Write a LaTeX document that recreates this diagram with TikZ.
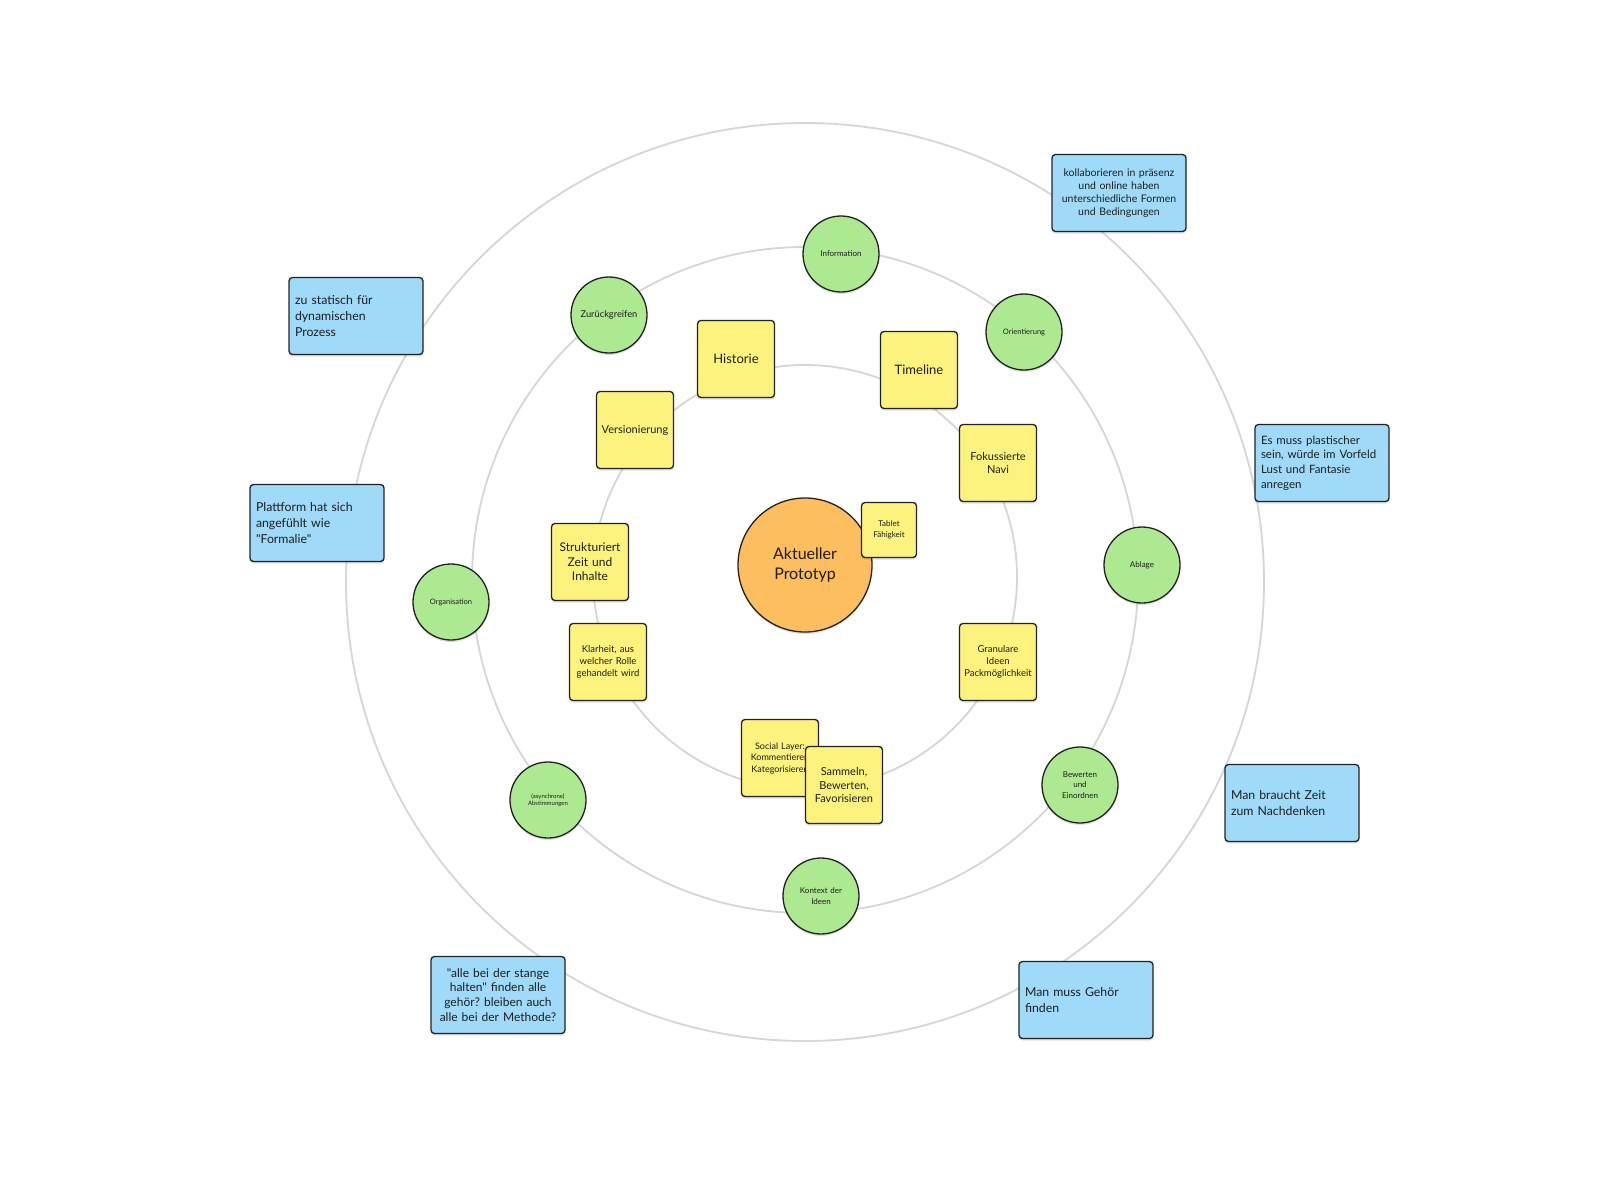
\documentclass[tikz,border=0pt]{standalone}
\usepackage{fontspec}
\setmainfont{Lato}[Ligatures=TeXOff]
\usetikzlibrary{shadows}
\definecolor{ringc}{HTML}{D6D6D6}
\definecolor{edgec}{HTML}{222222}
\definecolor{txtc}{HTML}{1E1E1E}
\definecolor{bluefill}{HTML}{9FDBF9}
\definecolor{yelfill}{HTML}{FCF27E}
\definecolor{greenfill}{HTML}{ADE991}
\definecolor{orangefill}{HTML}{FDBE5F}
\newcommand{\fs}[2]{\fontsize{#1}{#2}\selectfont\frenchspacing}
\hyphenpenalty=10000
\exhyphenpenalty=10000
\begin{document}
\begin{tikzpicture}[x=1pt,y=-1pt,
  ringline/.style={draw=ringc, line width=1.8pt},
  shad/.style={drop shadow={shadow xshift=0pt, shadow yshift=-2pt, opacity=0.12, fill=black}},
  boxbase/.style={shad, draw=edgec, line width=1.3pt, rounded corners=3.5pt, inner sep=0pt, text=txtc},
  bluebox/.style={boxbase, fill=bluefill, minimum width=134pt, minimum height=77pt},
  bluel/.style={bluebox, text width=122pt, align=left, font=\fs{12.3}{15.6}},
  bluec/.style={bluebox, text width=128pt, align=center},
  yelbox/.style={boxbase, fill=yelfill, minimum width=77pt, minimum height=77pt, text width=74pt, align=center},
  greenc/.style={shad, circle, draw=edgec, line width=1.3pt, fill=greenfill, minimum size=76pt, inner sep=0pt, text width=62pt, align=center, text=txtc},
]
\useasboundingbox (0,0) rectangle (1616,1193);
\fill[white] (0,0) rectangle (1616,1193);

% rings
\coordinate (ctrouter) at (805,582);
\coordinate (ctrmid) at (805,580);
\coordinate (ctrinner) at (805,577);
\draw[ringline] (ctrouter) circle[radius=459pt];
\draw[ringline] (ctrmid) circle[radius=333pt];
\draw[ringline] (ctrinner) circle[radius=212pt];

% green circles (middle ring)
\node[greenc, font=\fs{8}{10}] (info) at (841,254) {Information};
\node[greenc, font=\fs{9.3}{11}] (zur) at (609,315) {Zurückgreifen};
\node[greenc, font=\fs{7.5}{9}] (orient) at (1024,332) {Orientierung};
\node[greenc, font=\fs{8}{10}] (ablage) at (1142,565) {Ablage};
\node[greenc, font=\fs{7.5}{9}] (orga) at (451,602) {Organisation};
\node[greenc, font=\fs{6}{7.5}] (abst) at (548,800) {(asynchrone)\\Abstimmungen};
\node[greenc, font=\fs{8}{10.5}] (kontext) at (821,896) {Kontext der\\Ideen};
\node[greenc, font=\fs{8}{10.5}] (bewert) at (1080,785) {Bewerten\\und\\Einordnen};

% center
\node[shad, circle, draw=edgec, line width=1.3pt, fill=orangefill, minimum size=134pt, inner sep=0pt, align=center, text=txtc, font=\fs{16}{19.5}] (proto) at (805,565) {Aktueller\\Prototyp};

% yellow notes (inner ring)
\node[yelbox, font=\fs{13}{16}] (hist) at (736,359) {Historie};
\node[yelbox, font=\fs{13}{16}] (timeline) at (919,370) {Timeline};
\node[yelbox, font=\fs{11}{14}] (version) at (635,430) {Versionierung};
\node[yelbox, font=\fs{11}{13.8}] (fokus) at (998,463) {Fokussierte\\Navi};
\node[yelbox, font=\fs{12}{14.5}] (struk) at (590,562) {Strukturiert\\Zeit und\\Inhalte};
\node[yelbox, font=\fs{9.5}{12}] (klar) at (608,662) {Klarheit, aus\\welcher Rolle\\gehandelt wird};
\node[yelbox, font=\fs{9.5}{12}] (granu) at (998,662) {Granulare\\Ideen\\Packmöglichkeit};
\node[yelbox, font=\fs{9}{11.5}] (social) at (780,758) {Social Layer:\\Kommentieren\\Kategorisieren};
\node[yelbox, font=\fs{11}{13.5}] (sammeln) at (844,785) {Sammeln,\\Bewerten,\\Favorisieren};
\node[boxbase, fill=yelfill, minimum width=55pt, minimum height=55pt, text width=52pt, align=center, font=\fs{8}{10.5}] (tablet) at (889,530) {Tablet\\Fähigkeit};

% blue notes
\node[bluec, font=\fs{10.5}{13}] (kolla) at (1119,193) {kollaborieren in präsenz\\und online haben\\unterschiedliche Formen\\und Bedingungen};
\node[bluel] (statisch) at (356,316) {zu statisch für\\dynamischen\\Prozess};
\node[bluel, font=\fs{11.5}{14.6}] (plast) at (1322,463) {Es muss plastischer\\sein, würde im Vorfeld\\Lust und Fantasie\\anregen};
\node[bluel] (platt) at (317,523) {Plattform hat sich\\angefühlt wie\\"Formalie"};
\node[bluel] (zeit) at (1292,803) {Man braucht Zeit\\zum Nachdenken};
\node[bluec, font=\fs{12}{14.8}] (stange) at (498,995) {"alle bei der stange\\halten" finden alle\\gehör? bleiben auch\\alle bei der Methode?};
\node[bluel] (gehoer) at (1086,1000) {Man muss Gehör\\finden};
\end{tikzpicture}
\end{document}
